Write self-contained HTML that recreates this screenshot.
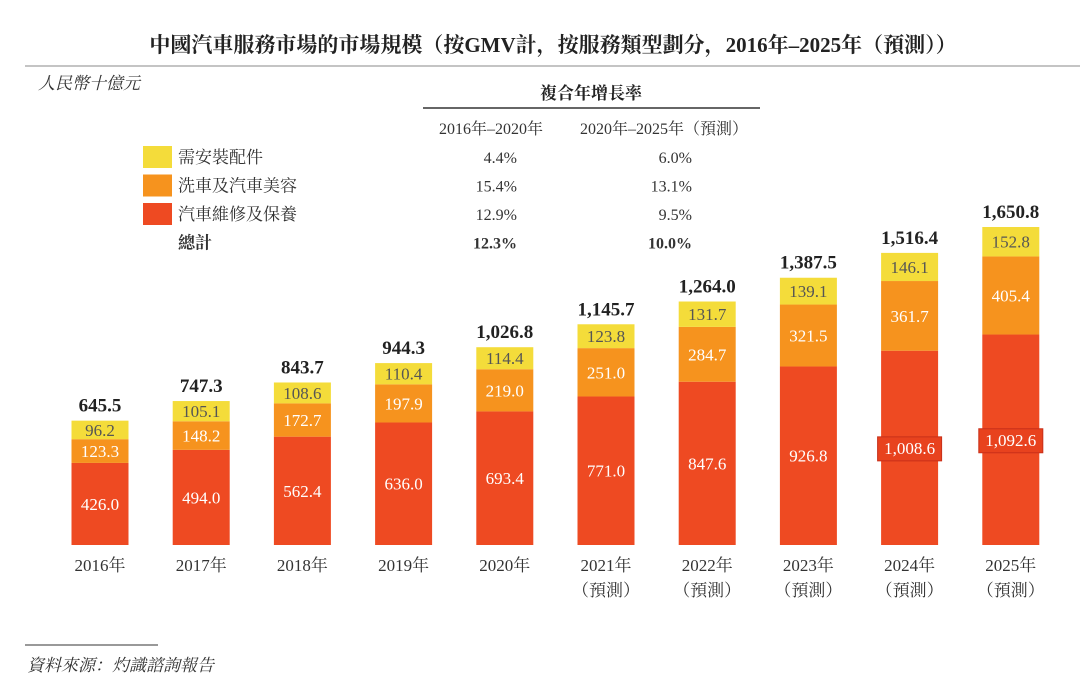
<!DOCTYPE html>
<html><head><meta charset="utf-8"><style>
body{margin:0;background:#fff;}
svg{display:block;font-family:"Liberation Serif","Noto Serif CJK SC",serif;}
</style></head><body>
<svg id="c" width="1080" height="687" viewBox="0 0 1080 687">
<text x="553" y="52" text-anchor="middle" font-size="21" font-weight="bold" fill="#222">中國汽車服務市場的市場規模（按GMV計，按服務類型劃分，2016年–2025年（預測））</text>
<line x1="25" y1="66" x2="1080" y2="66" stroke="#888" stroke-width="1"/>
<text x="38" y="89" font-size="17" font-style="italic" fill="#333">人民幣十億元</text>
<text x="591" y="99" text-anchor="middle" font-size="17" font-weight="bold" fill="#222">複合年增長率</text>
<line x1="423" y1="108" x2="760" y2="108" stroke="#333" stroke-width="1.5"/>
<text x="491" y="134" text-anchor="middle" font-size="16" fill="#333">2016年–2020年</text>
<text x="664" y="134" text-anchor="middle" font-size="16" fill="#333">2020年–2025年（預測）</text>
<g id="legend"></g>
<g id="bars"></g>
<line x1="25" y1="645" x2="158" y2="645" stroke="#333" stroke-width="1"/>
<text x="27" y="671" font-size="17" font-style="italic" fill="#333">資料來源：灼識諮詢報告</text>
</svg>
<script>
const years=["2016年","2017年","2018年","2019年","2020年","2021年","2022年","2023年","2024年","2025年"];
const forecast=[false,false,false,false,false,true,true,true,true,true];
const repair=[426.0,494.0,562.4,636.0,693.4,771.0,847.6,926.8,1008.6,1092.6];
const wash=[123.3,148.2,172.7,197.9,219.0,251.0,284.7,321.5,361.7,405.4];
const parts=[96.2,105.1,108.6,110.4,114.4,123.8,131.7,139.1,146.1,152.8];
const totals=[645.5,747.3,843.7,944.3,1026.8,1145.7,1264.0,1387.5,1516.4,1650.8];
const seriesNames=["需安裝配件","洗車及汽車美容","汽車維修及保養","總計"];
const cagr1=["4.4%","15.4%","12.9%","12.3%"];
const cagr2=["6.0%","13.1%","9.5%","10.0%"];
const NS="http://www.w3.org/2000/svg";
const colors={parts:"#f4dc3a",wash:"#f6931e",repair:"#ee4a22"};
const base=545,k=318/1650.8,x0=100,step=101.2,bw=57;
const y=v=>base-v*k, xc=i=>x0+i*step;
function el(t,a,p,txt){const e=document.createElementNS(NS,t);for(const q in a)e.setAttribute(q,a[q]);if(txt!=null)e.textContent=txt;p.appendChild(e);return e;}
const fmt=v=>v.toLocaleString("en-US",{minimumFractionDigits:1,maximumFractionDigits:1});
const lg=document.getElementById("legend");
const swc=[colors.parts,colors.wash,colors.repair];
seriesNames.forEach((n,i)=>{
  const yy=146+i*28.5;
  if(i<3){const r=el("rect",{x:143,y:yy,width:29,height:22,fill:swc[i]},lg);
    
    }
  const t=el("text",{x:178,y:yy+17,"font-size":17,fill:"#333","font-weight":i==3?"bold":"normal"},lg,n);
  
  
  const a=el("text",{x:517,y:yy+17,"text-anchor":"end","font-size":16,fill:"#333","font-weight":i==3?"bold":"normal"},lg,cagr1[i]);
  
  
  const b=el("text",{x:692,y:yy+17,"text-anchor":"end","font-size":16,fill:"#333","font-weight":i==3?"bold":"normal"},lg,cagr2[i]);
  
  
});
const bg=document.getElementById("bars");
years.forEach((yr,i)=>{
  const cx=xc(i),x=cx-bw/2;
  const segs=[[repair[i],0,colors.repair,"repair"],[wash[i],repair[i],colors.wash,"wash"],[parts[i],repair[i]+wash[i],colors.parts,"parts"]];
  segs.forEach(([v,b0,c,nm])=>{
    const top=y(b0+v),h=v*k;
    const r=el("rect",{x:x,y:top,width:bw,height:h,fill:c},bg);
    
    
    const ty=top+h/2+6;
    if(nm==="repair"&&v>=1000){
      const bx=el("rect",{x:cx-32,y:ty-17,width:64,height:24,fill:"#e8421e",stroke:"#c9301a"},bg);
      
      
    }
    const t=el("text",{x:cx,y:ty,"text-anchor":"middle","font-size":17,fill:nm==="parts"?"#555":"#fff"},bg,fmt(v));
    
    
  });
  const tt=el("text",{x:cx,y:y(totals[i])-9,"text-anchor":"middle","font-size":19,"font-weight":"bold",fill:"#222"},bg,fmt(totals[i]));
  
  
  const xl=el("text",{x:cx,y:571,"text-anchor":"middle","font-size":17,fill:"#333"},bg,yr);
  
  
  if(forecast[i]){const f=el("text",{x:cx,y:596,"text-anchor":"middle","font-size":17,fill:"#333"},bg,"（預測）");
    
    }
});
</script>
</body></html>
